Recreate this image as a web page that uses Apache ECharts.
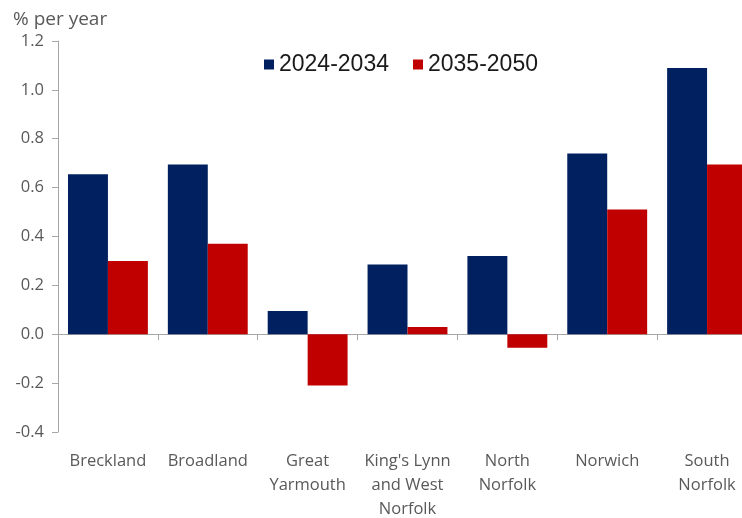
<!DOCTYPE html>
<html><head><meta charset="utf-8">
<script src="https://cdn.jsdelivr.net/npm/echarts@6/dist/echarts.min.js"></script>
<style>html,body{margin:0;padding:0;background:#fff}#c{width:742px;height:518px}</style>
</head><body><div id="c"></div>
<script>
const categories = ['Breckland','Broadland','Great\nYarmouth',"King's Lynn\nand West\nNorfolk",'North\nNorfolk','Norwich','South\nNorfolk'];
const series2024 = [0.655, 0.695, 0.095, 0.285, 0.32, 0.74, 1.09];
const series2035 = [0.30, 0.37, -0.21, 0.03, -0.055, 0.51, 0.695];
const seriesNames = ['2024-2034','2035-2050'];
const yTicks = {min:-0.4, max:1.2, interval:0.2};

const chart = echarts.init(document.getElementById('c'));
const labelFont = '"Open Sans", "Noto Sans", sans-serif';
chart.setOption({
  animation:false,
  title:{text:'% per year', left:8, top:5, textStyle:{fontFamily:labelFont, fontWeight:'normal', fontSize:19, color:'#595959'}},
  legend:{data:seriesNames, left:259, top:48, itemWidth:10, itemHeight:10, itemGap:24,
    icon:'rect', textStyle:{fontFamily:'"Liberation Sans", Arial, sans-serif', fontSize:23, color:'#1a1a1a'}},
  grid:{left:58, right:-15, top:41, bottom:86, containLabel:false, outerBoundsMode:'none'},
  xAxis:[{
    type:'category', data:categories, position:'bottom',
    axisLine:{onZero:true, lineStyle:{color:'#a6a6a6'}},
    axisTick:{show:true, length:6, lineStyle:{color:'#a6a6a6'}},
    axisLabel:{show:false}
  },{
    type:'category', data:categories, position:'bottom',
    axisLine:{show:false, onZero:false}, axisTick:{show:false},
    axisLabel:{margin:17, fontFamily:labelFont, fontSize:16.5, color:'#595959', lineHeight:24, interval:0}
  }],
  yAxis:{type:'value', min:yTicks.min, max:yTicks.max, interval:yTicks.interval,
    splitLine:{show:false},
    axisLine:{show:true, lineStyle:{color:'#a6a6a6'}},
    axisTick:{show:true, length:6, lineStyle:{color:'#a6a6a6'}},
    axisLabel:{margin:14, fontFamily:labelFont, fontSize:16.5, color:'#595959', formatter:v=>v.toFixed(1)}
  },
  series:[
    {name:seriesNames[0], type:'bar', data:series2024, xAxisIndex:0, barWidth:'40%', barGap:'0%', itemStyle:{color:'#002060'}},
    {name:seriesNames[1], type:'bar', data:series2035, xAxisIndex:0, barWidth:'40%', barGap:'0%', itemStyle:{color:'#C00000'}}
  ]
});
</script></body></html>
